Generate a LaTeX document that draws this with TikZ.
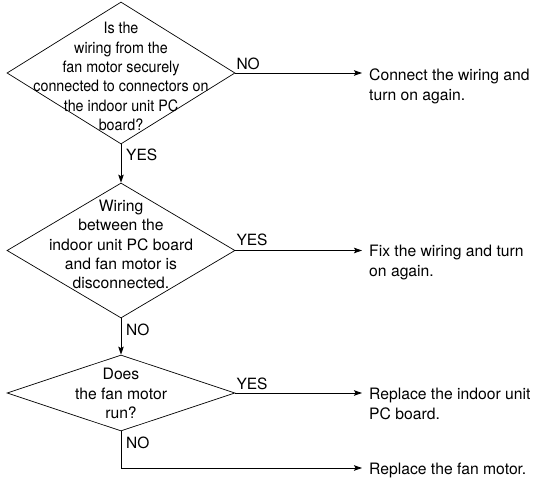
\documentclass[tikz,border=0pt]{standalone}
\usepackage{fontspec}
\setmainfont{TeX Gyre Heros}
\newfontfamily\narrowfont[FakeStretch=0.91]{TeX Gyre Heros}
\usetikzlibrary{shapes.geometric,arrows.meta}
\begin{document}
\begin{tikzpicture}[x=1pt,y=-1pt,
  diam/.style={shape=diamond, draw, line width=0.7pt, inner sep=0pt},
  qtext/.style={align=center, inner sep=0pt, font=\fontsize{15.7}{19.2}\selectfont},
  res/.style={anchor=north west, align=left, inner xsep=7pt, inner ysep=0pt, font=\fontsize{15.7}{20}\selectfont},
  lbl/.style={inner sep=0pt, font=\fontsize{15.5}{18}\selectfont},
  conn/.style={line width=0.8pt},
  arr/.style={conn, -{Stealth[length=8pt,width=5.5pt,inset=1.5pt]}}]
\useasboundingbox (0,0) rectangle (536,478);

% decision diamonds
\node[diam, minimum width=228pt, minimum height=142pt] (d1) at (121,73) {};
\node[diam, minimum width=228pt, minimum height=135pt] (d2) at (121,250.5) {};
\node[diam, minimum width=228pt, minimum height=76pt] (d3) at (121,393) {};

% diamond texts
\node[qtext, font=\narrowfont\fontsize{15.7}{19.4}\selectfont] (t1) at ([yshift=-3.5pt]d1.center)
  {Is the\\wiring from the\\fan motor securely\\connected to connectors on\\the indoor unit PC\\board?};
\node[qtext] (t2) at ([yshift=6pt]d2.center)
  {Wiring\\between the\\indoor unit PC board\\and fan motor is\\disconnected.};
\node[qtext] (t3) at ([yshift=-0.5pt]d3.center)
  {Does\\the fan motor\\run?};

% results
\node[res] (r1) at (362,69) {Connect the wiring and\\turn on again.};
\node[res] (r2) at (362,245) {Fix the wiring and turn\\on again.};
\node[res] (r3) at (362,388) {Replace the indoor unit\\PC board.};
\node[res] (r4) at (362,463) {Replace the fan motor.};

% connectors
\draw[arr] (d1.south) -- (d2.north);
\draw[arr] (d2.south) -- (d3.north);
\draw[arr] (d1.east) -- (r1.west |- d1.east);
\draw[arr] (d2.east) -- (r2.west |- d2.east);
\draw[arr] (d3.east) -- (r3.west |- d3.east);
\draw[arr] (d3.south) |- ([yshift=-5pt]r4.north west);

% branch labels
\node[lbl, anchor=base west] (l1) at ([xshift=1pt,yshift=3pt]d1.east) {NO};
\node[lbl, anchor=north west] (l2) at ([xshift=5pt,yshift=-4pt]d1.south) {YES};
\node[lbl, anchor=base west] (l3) at ([xshift=1pt,yshift=5pt]d2.east) {YES};
\node[lbl, anchor=north west] (l4) at ([xshift=5pt,yshift=-5pt]d2.south) {NO};
\node[lbl, anchor=base west] (l5) at ([xshift=1pt,yshift=3pt]d3.east) {YES};
\node[lbl, anchor=north west] (l6) at ([xshift=5pt,yshift=-5pt]d3.south) {NO};
\end{tikzpicture}
\end{document}
